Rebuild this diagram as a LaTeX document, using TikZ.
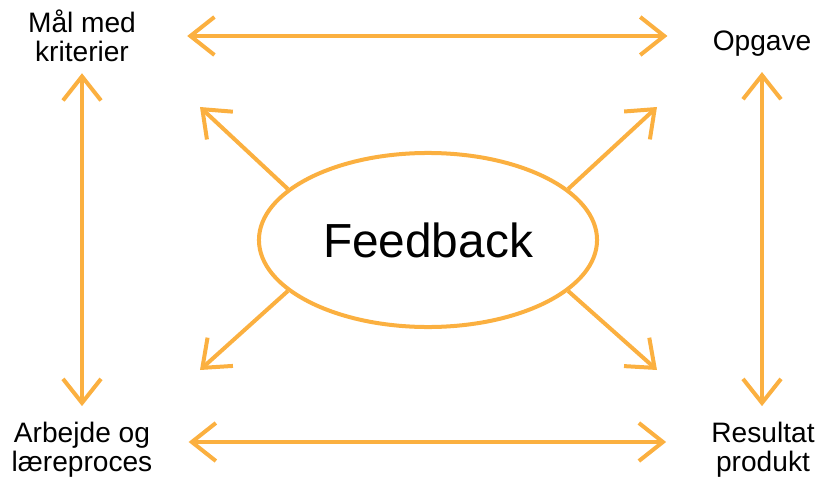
\documentclass[tikz,border=0pt]{standalone}
\usepackage{fontspec}
\setmainfont{Liberation Sans}
\usetikzlibrary{arrows.meta,shapes.geometric}
\definecolor{fborange}{RGB}{251,176,64}

\begin{document}
\begin{tikzpicture}[x=0.025cm, y=-0.025cm,
        lbl/.style={inner sep=0pt, align=center, font=\fontsize{20pt}{20.6pt}\selectfont},
        arr/.style={-{Straight Barb[length=0.6cm, width=0.95cm]}, line width=0.1cm, fborange},
        dbl/.style={{Straight Barb[length=0.6cm, width=0.95cm]}-{Straight Barb[length=0.6cm, width=0.95cm]}, line width=0.1cm, fborange}]
            \useasboundingbox (0,0) rectangle (817,479);

            \node[lbl] (mal) at (82,36) {Mål med\\kriterier};
            \node[lbl] (opg) at (762,44) {Opgave};
            \node[lbl] (arb) at (82,450) {Arbejde og\\læreproces};
            \node[lbl] (res) at (763,450) {Resultat\\produkt};

            \node[draw=fborange, line width=0.1cm, ellipse, inner sep=0pt,
                  minimum width=8.45cm, minimum height=4.35cm,
                  font=\fontsize{34pt}{40pt}\selectfont] (fb) at (428,240) {Feedback};

            \coordinate (ul) at (200,107);
            \coordinate (ur) at (657,107);
            \coordinate (ll) at (200,370);
            \coordinate (lr) at (657,370);

            \draw[dbl, shorten <=1.275cm, shorten >=1.125cm] (mal.east) -- (mal.east -| opg.west);
            \draw[dbl, shorten <=0.9cm, shorten >=1.125cm] ([yshift=2mm]arb.east) -- ([yshift=2mm]arb.east -| res.west);
            \draw[dbl, shorten <=0.275cm, shorten >=0.4cm] (mal.south) -- (mal.south |- arb.north);
            \draw[dbl, shorten <=0.375cm, shorten >=0.4cm] (opg.south) -- (opg.south |- res.north);

            \draw[arr] (fb.160) -- (ul);
            \draw[arr] (fb.20) -- (ur);
            \draw[arr] (fb.200) -- (ll);
            \draw[arr] (fb.340) -- (lr);
        \end{tikzpicture}
\end{document}
